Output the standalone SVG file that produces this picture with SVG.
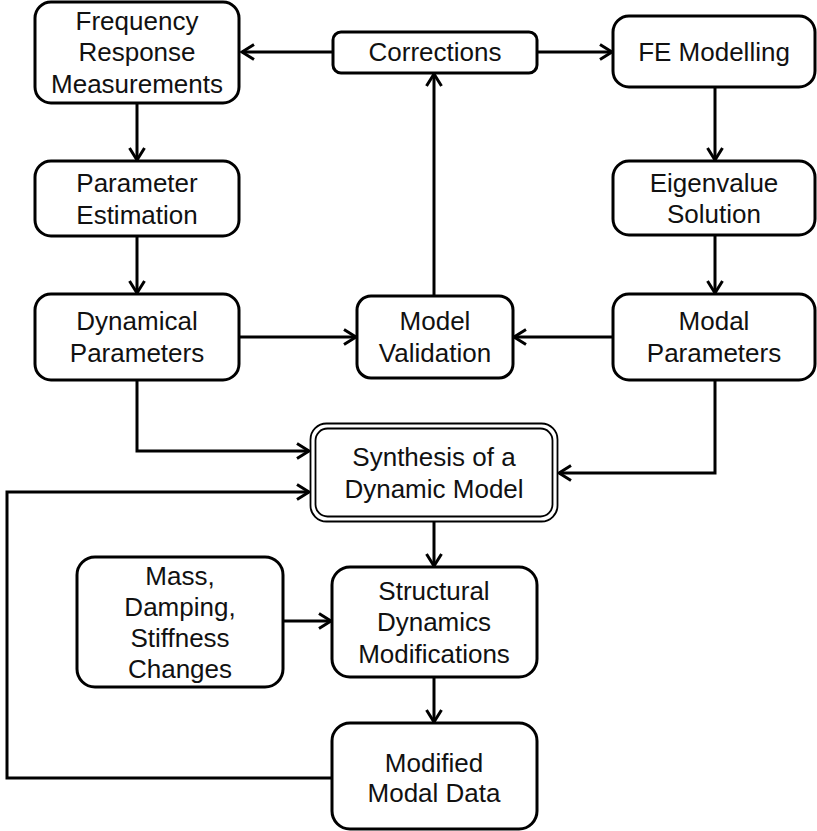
<svg xmlns="http://www.w3.org/2000/svg" width="817" height="831" viewBox="0 0 817 831">
<defs>
<style>
.box{fill:#fff;stroke:#000;stroke-width:3}
.dbl{fill:none;stroke:#000;stroke-width:1.8}
text{font-family:"Liberation Sans",Arial,sans-serif;font-size:26px;fill:#111;text-anchor:middle}
.c{fill:none;stroke:#000;stroke-width:3}
</style>
<marker id="ah" markerUnits="userSpaceOnUse" markerWidth="16" markerHeight="18" viewBox="0 0 16 18" refX="14" refY="9" orient="auto">
<path d="M2,1.5 L14,9 L2,16.5" fill="none" stroke="#000" stroke-width="3"/>
</marker>
</defs>
<rect width="817" height="831" fill="#fff"/>
<g id="connectors">
<path class="c" d="M333,52 H242" marker-end="url(#ah)"/>
<path class="c" d="M537,52 H612" marker-end="url(#ah)"/>
<path class="c" d="M137,103 V160" marker-end="url(#ah)"/>
<path class="c" d="M137,236 V293" marker-end="url(#ah)"/>
<path class="c" d="M715,87 V160" marker-end="url(#ah)"/>
<path class="c" d="M715,235 V293" marker-end="url(#ah)"/>
<path class="c" d="M239,337 H356" marker-end="url(#ah)"/>
<path class="c" d="M613,337 H514" marker-end="url(#ah)"/>
<path class="c" d="M434,296 V74" marker-end="url(#ah)"/>
<path class="c" d="M137,380 V451 H309" marker-end="url(#ah)"/>
<path class="c" d="M715,380 V473 H559" marker-end="url(#ah)"/>
<path class="c" d="M332,778 H7 V492 H309" marker-end="url(#ah)"/>
<path class="c" d="M434,522 V566" marker-end="url(#ah)"/>
<path class="c" d="M283,621 H331" marker-end="url(#ah)"/>
<path class="c" d="M434,677 V722" marker-end="url(#ah)"/>
</g>
<g id="freq">
<rect class="box" x="35" y="2" width="204" height="101" rx="16"/>
<text x="137" y="29.5">Frequency</text>
<text x="137" y="61">Response</text>
<text x="137" y="92.5">Measurements</text>
</g>
<g id="corrections">
<rect class="box" x="333" y="32" width="204" height="41" rx="8"/>
<text x="435" y="61">Corrections</text>
</g>
<g id="fe">
<rect class="box" x="613" y="16" width="202" height="71" rx="16"/>
<text x="714" y="60.5">FE Modelling</text>
</g>
<g id="param">
<rect class="box" x="35" y="161" width="204" height="75" rx="16"/>
<text x="137" y="192">Parameter</text>
<text x="137" y="223.5">Estimation</text>
</g>
<g id="eigen">
<rect class="box" x="613" y="161" width="202" height="74" rx="16"/>
<text x="714" y="191.5">Eigenvalue</text>
<text x="714" y="223">Solution</text>
</g>
<g id="dyn">
<rect class="box" x="35" y="294" width="204" height="86" rx="16"/>
<text x="137" y="330">Dynamical</text>
<text x="137" y="362">Parameters</text>
</g>
<g id="validation">
<rect class="box" x="357" y="296" width="156" height="82" rx="14"/>
<text x="435" y="330">Model</text>
<text x="435" y="362">Validation</text>
</g>
<g id="modal">
<rect class="box" x="613" y="294" width="202" height="86" rx="16"/>
<text x="714" y="330">Modal</text>
<text x="714" y="362">Parameters</text>
</g>
<g id="synthesis">
<rect x="310" y="423" width="248" height="99" rx="16" fill="#fff" stroke="none"/>
<rect class="dbl" x="310.5" y="423.5" width="247" height="98" rx="16"/>
<rect class="dbl" x="315.5" y="428.5" width="237" height="88" rx="12"/>
<text x="434" y="465.5">Synthesis of a</text>
<text x="434" y="497.5">Dynamic Model</text>
</g>
<g id="mass">
<rect class="box" x="77" y="557" width="206" height="130" rx="18"/>
<text x="180" y="584.5">Mass,</text>
<text x="180" y="615.5">Damping,</text>
<text x="180" y="646.5">Stiffness</text>
<text x="180" y="677.5">Changes</text>
</g>
<g id="structural">
<rect class="box" x="332" y="567" width="205" height="110" rx="18"/>
<text x="434" y="600">Structural</text>
<text x="434" y="631">Dynamics</text>
<text x="434" y="662.5">Modifications</text>
</g>
<g id="modified">
<rect class="box" x="332" y="723" width="205" height="106" rx="18"/>
<text x="434" y="771.5">Modified</text>
<text x="434" y="802">Modal Data</text>
</g>
</svg>
